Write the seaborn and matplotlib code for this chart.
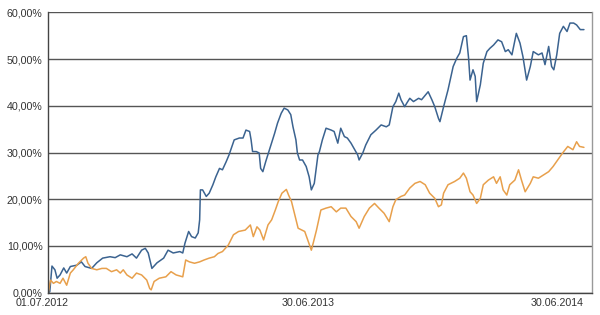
import numpy as np
import pandas as pd
import matplotlib
matplotlib.use("Agg")
import matplotlib.pyplot as plt
from matplotlib.transforms import ScaledTranslation
import seaborn as sns

START = "2012-07-01"

# Series 1 (blue): days since start, performance in %
blue_days = [0, 2, 5, 9, 12, 16, 21, 25, 30, 39, 45, 50, 59, 66, 74, 84, 91, 98, 107, 114,
             120, 127, 132, 136, 141, 148, 157, 163, 170, 179, 183, 186, 191, 195, 200, 204, 206, 207, 210, 215,
             219, 224, 228, 233, 237, 242, 246, 253, 260, 265, 269, 274, 276, 278, 283, 287, 289, 292, 296, 301,
             308, 312, 317, 321, 326, 330, 333, 337, 339, 342, 346, 351, 355, 358, 362, 367, 369, 373, 378, 385,
             389, 394, 398, 403, 407, 412, 416, 421, 423, 428, 432, 439, 446, 453, 460, 464, 469, 473, 477, 480,
             485, 488, 492, 497, 504, 508, 517, 522, 526, 531, 533, 538, 544, 551, 556, 560, 565, 569, 572, 574,
             578, 581, 583, 588, 592, 597, 601, 606, 612, 617, 622, 626, 631, 637, 642, 646, 651, 656, 660, 667,
             672, 676, 681, 685, 688, 692, 696, 701, 706, 710, 715, 719, 724, 729]
blue_vals = [0.0, 0.2, 5.7, 4.9, 3.1, 3.8, 5.3, 4.2, 5.6, 5.9, 6.6, 5.6, 5.2, 6.4, 7.4, 7.7, 7.5, 8.1, 7.7, 8.3,
             7.4, 9.1, 9.5, 8.5, 5.2, 6.4, 7.4, 9.1, 8.5, 8.8, 8.5, 10.6, 13.1, 12.0, 11.7, 12.8, 15.6, 22.0, 22.0, 20.6,
             21.3, 23.1, 24.8, 26.6, 26.3, 28.0, 29.5, 32.7, 33.1, 33.1, 34.8, 34.5, 32.7, 30.2, 30.2, 29.9, 26.6, 25.9, 28.1, 30.6,
             34.1, 36.3, 38.4, 39.5, 39.1, 38.1, 35.5, 32.7, 29.9, 28.4, 28.4, 27.0, 24.8, 22.0, 23.4, 29.5, 30.2, 32.7, 35.2, 34.8,
             34.5, 32.0, 35.2, 33.4, 33.1, 32.0, 30.9, 29.5, 28.4, 29.9, 31.6, 33.8, 34.8, 35.9, 35.5, 35.9, 39.8, 40.9, 42.7, 41.3,
             39.8, 40.6, 41.6, 40.9, 41.6, 41.3, 43.0, 41.3, 39.8, 37.3, 36.6, 39.8, 43.4, 48.4, 50.2, 51.3, 54.8, 55.0, 50.2, 45.5,
             47.7, 46.3, 40.9, 44.5, 49.1, 51.6, 52.3, 53.0, 54.1, 53.7, 51.6, 52.0, 50.9, 55.5, 53.4, 50.5, 45.5, 48.4, 51.6, 50.9,
             51.3, 48.8, 52.7, 48.4, 47.7, 50.9, 55.5, 57.0, 55.9, 57.7, 57.7, 57.3, 56.3, 56.3]

# Series 2 (orange)
orange_days = [0, 3, 7, 11, 16, 20, 25, 30, 34, 41, 48, 51, 54, 59, 66, 73, 79, 86, 93, 98,
               102, 107, 114, 120, 127, 134, 138, 140, 144, 151, 160, 167, 174, 183, 187, 192, 199, 206, 212, 219,
               226, 231, 237, 245, 252, 259, 268, 275, 279, 284, 288, 293, 299, 304, 309, 313, 318, 324, 327, 331,
               336, 340, 345, 349, 354, 358, 361, 365, 371, 378, 385, 392, 398, 405, 412, 419, 423, 430, 437, 444,
               450, 457, 464, 469, 473, 480, 485, 492, 499, 506, 513, 519, 526, 531, 535, 538, 544, 553, 560, 565,
               569, 574, 578, 583, 588, 592, 599, 606, 610, 615, 619, 624, 628, 635, 640, 644, 649, 656, 660, 667,
               674, 681, 687, 692, 700, 707, 714, 719, 723, 729]
orange_vals = [0.0, 2.7, 2.0, 2.4, 2.0, 3.1, 1.6, 4.2, 4.9, 6.3, 7.4, 7.7, 6.3, 5.2, 4.9, 5.2, 5.2, 4.5, 4.9, 4.2,
               4.9, 3.8, 3.1, 4.2, 3.8, 2.7, 0.9, 0.6, 2.4, 3.1, 3.4, 4.5, 3.8, 3.4, 7.0, 6.6, 6.3, 6.6, 7.0, 7.4,
               7.7, 8.4, 8.8, 10.2, 12.4, 13.1, 13.4, 14.5, 12.0, 14.1, 13.4, 11.3, 14.5, 15.6, 17.7, 19.5, 21.3, 22.1, 20.9, 19.5,
               16.3, 13.8, 13.4, 13.1, 10.9, 9.1, 10.9, 13.4, 17.7, 18.1, 18.4, 17.3, 18.1, 18.1, 16.3, 15.2, 13.8, 16.3, 18.1, 19.1,
               18.1, 17.0, 15.2, 18.4, 19.9, 20.6, 20.9, 22.4, 23.4, 23.8, 23.1, 21.3, 20.2, 18.4, 18.8, 21.3, 23.1, 23.8, 24.5, 25.6,
               24.5, 21.6, 20.9, 19.1, 20.2, 23.1, 24.1, 24.8, 23.4, 24.8, 22.0, 20.9, 23.1, 24.1, 26.3, 24.1, 21.6, 23.4, 24.8, 24.5,
               25.2, 25.9, 27.0, 28.1, 29.9, 31.3, 30.6, 32.3, 31.3, 31.1]

tick_dates = ["2012-07-01", "2013-06-30", "2014-06-30"]
tick_labels = ["01.07.2012", "30.06.2013", "30.06.2014"]
y_ticks = [0, 10, 20, 30, 40, 50, 60]

start = pd.Timestamp(START)
df = pd.concat([
    pd.DataFrame({"date": start + pd.to_timedelta(blue_days, unit="D"), "value": blue_vals, "series": "A"}),
    pd.DataFrame({"date": start + pd.to_timedelta(orange_days, unit="D"), "value": orange_vals, "series": "B"}),
])

sns.set_style("white")
plt.rcParams["font.family"] = ["Liberation Sans", "DejaVu Sans"]

fig = plt.figure(figsize=(6.0, 3.15), dpi=100)
ax = fig.add_axes([0.0805, 0.0708, 0.9062, 0.8901])

sns.lineplot(data=df, x="date", y="value", hue="series", ax=ax,
             palette={"A": "#3b6390", "B": "#e8a04c"}, linewidth=1.1, legend=False,
             estimator=None, sort=False)

ax.set_xlim(start, start + pd.Timedelta(days=740))
ax.set_ylim(0, 60)
ax.set_yticks(y_ticks)
ax.set_yticklabels([f"{v:.2f}".replace(".", ",") + "%" for v in y_ticks])
ax.yaxis.grid(True, color="#555555", linewidth=1.0)
ax.set_axisbelow(True)

ax.set_xticks([pd.Timestamp(d) for d in tick_dates])
ax.set_xticklabels(tick_labels)
ax.set_xlabel("")
ax.set_ylabel("")
ax.tick_params(axis="both", length=0, labelsize=7.7, colors="#333333")
ax.tick_params(axis="y", pad=4)
ax.tick_params(axis="x", pad=4)

labels = ax.get_xticklabels()
offsets = [-6, -8, 0]
for lab, off in zip(labels, offsets):
    lab.set_transform(lab.get_transform() + ScaledTranslation(off / 100, 0, fig.dpi_scale_trans))
labels[-1].set_horizontalalignment("right")

for side in ["left", "bottom", "right"]:
    ax.spines[side].set_visible(True)
    ax.spines[side].set_color("#444444")
    ax.spines[side].set_linewidth(1.0)
ax.spines["right"].set_color("#999999")
ax.spines["top"].set_visible(False)

fig.savefig("out.png", dpi=100)
